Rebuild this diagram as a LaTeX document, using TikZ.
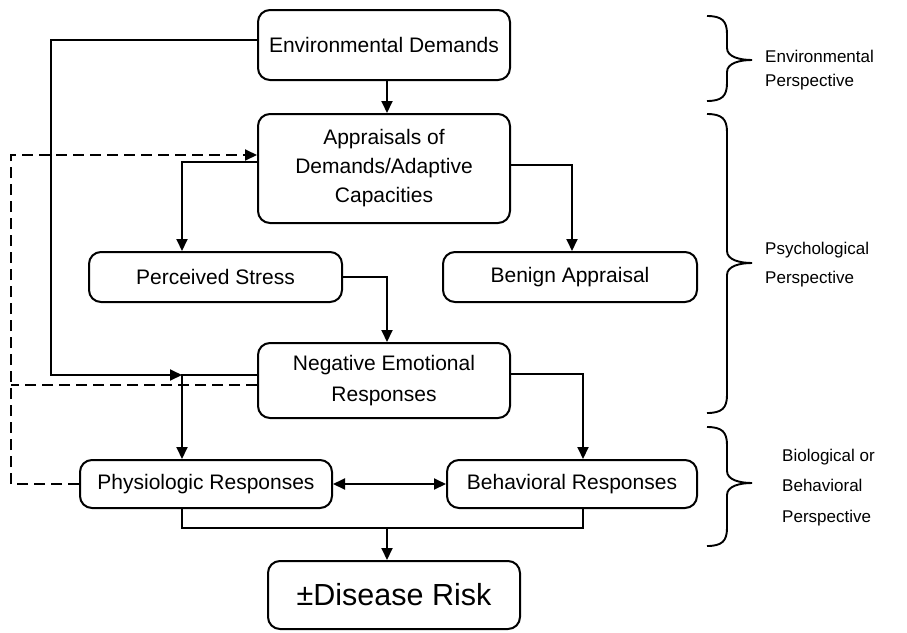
\documentclass[tikz,border=0pt]{standalone}
\usepackage{fontspec}
\setmainfont{Liberation Sans}
\usetikzlibrary{arrows.meta,calc}
\newcommand\persbrace[3]{\draw[bracestyle] (707,#1) .. controls (722,#1) and (727,{#1+5}) .. (727,{#1+18}) -- (727,{#2-12}) .. controls (727,{#2-3}) and (740,#2) .. (752,#2) .. controls (740,#2) and (727,{#2+3}) .. (727,{#2+12}) -- (727,{#3-18}) .. controls (727,{#3-5}) and (722,#3) .. (707,#3);}
\begin{document}
\begin{tikzpicture}[x=1pt,y=-1pt,
  box/.style={draw, line width=2pt, rounded corners=12pt, align=center, inner sep=0pt, font=\fontsize{21}{29}\selectfont},
  conn/.style={line width=1.9pt},
  arr/.style={conn, -{Triangle[length=12pt,width=11pt]}},
  arrtwo/.style={conn, {Triangle[length=12pt,width=11pt]}-{Triangle[length=12pt,width=11pt]}},
  dsh/.style={conn, dash pattern=on 11pt off 6pt},
  dsharr/.style={dsh, -{Triangle[length=12pt,width=11pt]}},
  persp/.style={anchor=west, align=left, inner sep=0pt},
  bracestyle/.style={line width=1.9pt}
]
\useasboundingbox (0,0) rectangle (907,632);

% boxes
\node[box, minimum width=252pt, minimum height=70pt] (env) at (384,45) {Environmental Demands};
\node[box, minimum width=252pt, minimum height=109pt] (appr) at (384,168.5) {Appraisals of\\Demands/Adaptive\\Capacities};
\node[box, minimum width=253pt, minimum height=50pt] (ps) at (215.5,277) {Perceived Stress};
\node[box, minimum width=254pt, minimum height=50pt] (ben) at (570,277) {Benign Appraisal};
\node[box, minimum width=252pt, minimum height=75pt, font=\fontsize{21}{31}\selectfont] (neg) at (384,380.5) {Negative Emotional\\Responses};
\node[box, minimum width=252pt, minimum height=48pt] (phys) at (206,484) {Physiologic Responses};
\node[box, minimum width=250pt, minimum height=48pt] (beh) at (572,484) {Behavioral Responses};
\node[box, minimum width=252pt, minimum height=68pt, font=\fontsize{30.5}{36}\selectfont] (dis) at (394,595) {±Disease Risk};

% column coordinates
\coordinate (xL) at (51,0);
\coordinate (xD) at (11,0);
\coordinate (xA) at (182,0);
\coordinate (xB) at (387,0);
\coordinate (xC) at (572,0);
\coordinate (xR) at (583,0);
\coordinate (jneg) at (182,375);
\coordinate (jbot) at (387,528);
\coordinate (dtop) at ([yshift=13.5pt]appr.west);
\coordinate (dneg) at ([yshift=-4.5pt]neg.west);

% connectors
\draw[arr] (xB |- env.south) -- (xB |- appr.north);
\draw[arr] ([yshift=5pt]env.west) -| (xL |- jneg) -- (jneg);
\draw[arr] ([yshift=5.5pt]neg.west) -- (jneg) -- (jneg |- phys.north);
\draw[dsh] (dneg) -- (xD |- dneg);
\draw[dsharr] (phys.west) -| (xD |- dtop) -- (dtop);
\draw[arr] ([yshift=6.5pt]appr.west) -| (xA |- ps.north);
\draw[arr] ([yshift=3.5pt]appr.east) -| (xC |- ben.north);
\draw[arr] (ps.east) -| (xB |- neg.north);
\draw[arr] ([yshift=6.5pt]neg.east) -| (xR |- beh.north);
\draw[arrtwo] (phys.east) -- (beh.west);
\draw[conn] (xA |- phys.south) |- (xR |- jbot) -- (xR |- beh.south);
\draw[arr] (jbot) -- (jbot |- dis.north);

% braces
\persbrace{16}{60}{101}
\persbrace{114}{263}{413}
\persbrace{427}{483}{546}

% perspective labels
\node[persp, font=\fontsize{17}{24}\selectfont] (lenv) at (765,70) {Environmental\\Perspective};
\node[persp, font=\fontsize{17}{29}\selectfont] (lpsy) at (765,265) {Psychological\\Perspective};
\node[persp, font=\fontsize{17}{30.5}\selectfont] (lbio) at (782,487.5) {Biological or\\Behavioral\\Perspective};
\end{tikzpicture}
\end{document}
